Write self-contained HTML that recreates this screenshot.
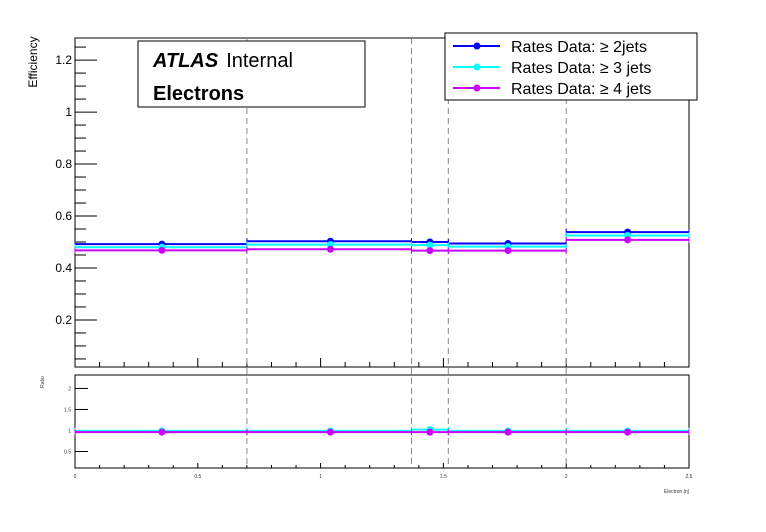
<!DOCTYPE html>
<html><head><meta charset="utf-8"><style>
body{margin:0;background:#fff;}
svg{display:block;font-family:"Liberation Sans",sans-serif;}
</style></head><body>
<svg id="c" width="766" height="532"></svg>
<script>
const edges=[0,0.7,1.37,1.52,2.0,2.5];
const centers=[0.354,1.04,1.445,1.763,2.25];
const eff2=[0.492,0.503,0.500,0.494,0.538];
const eff3=[0.480,0.490,0.488,0.482,0.525];
const eff4=[0.468,0.472,0.467,0.467,0.508];
const ratio3=[0.99,0.99,1.02,0.99,0.99];
const ratio4=[0.96,0.96,0.96,0.96,0.96];
const mainTicks=[0.2,0.4,0.6,0.8,1,1.2];
const ratioTicks=[0.5,1,1.5,2];
const xTicks=[0,0.5,1,1.5,2,2.5];
const NS="http://www.w3.org/2000/svg";
const svg=document.getElementById('c');
function el(t,a,p){const e=document.createElementNS(NS,t);for(const k in a)e.setAttribute(k,a[k]);(p||svg).appendChild(e);return e;}
const X0=75,X1=689;
const xs=v=>X0+(v-0)/(2.5)*(X1-X0);
const MT=38,MB=367,mmin=0.019,mmax=1.285;
const ym=v=>MB-(v-mmin)/(mmax-mmin)*(MB-MT);
const RT=375,RB=468,rmin=0.107,rmax=2.32;
const yr=v=>RB-(v-rmin)/(rmax-rmin)*(RB-RT);
let f=el('rect',{x:X0,y:MT,width:X1-X0,height:MB-MT,fill:'none',stroke:'#000','stroke-width':1});

f=el('rect',{x:X0,y:RT,width:X1-X0,height:RB-RT,fill:'none',stroke:'#000','stroke-width':1});

for(let v=0.05;v<1.285;v+=0.05){const major=Math.abs(v*5-Math.round(v*5))<1e-6;
 const t=el('line',{x1:X0,x2:X0+(major?22:11),y1:ym(v),y2:ym(v),stroke:'#000'});
 }
mainTicks.forEach(v=>{const t=el('text',{x:X0-3,y:ym(v)+4,'font-size':12,'text-anchor':'end'});t.textContent=String(v);
 });
for(let v=0;v<=2.5001;v+=0.1){const major=Math.abs(v*2-Math.round(v*2))<1e-6;
 el('line',{x1:xs(v),x2:xs(v),y1:MB,y2:MB-(major?9:5),stroke:'#000'});
 el('line',{x1:xs(v),x2:xs(v),y1:RB,y2:RB-(major?5:3),stroke:'#000'});}
xTicks.forEach(v=>{const t=el('text',{x:xs(v),y:RB+10,'font-size':5,'text-anchor':'middle',fill:'#333'});t.textContent=String(v);
 });
ratioTicks.forEach(v=>{el('line',{x1:X0,x2:X0+13,y1:yr(v),y2:yr(v),stroke:'#000'});
 const t=el('text',{x:X0-4,y:yr(v)+2,'font-size':5,'text-anchor':'end',fill:'#333'});t.textContent=String(v);
 });
edges.slice(1,-1).forEach(v=>{const l=el('line',{x1:xs(v),x2:xs(v),y1:MT,y2:RB,stroke:'#888','stroke-dasharray':'6,4'});
 });
function series(vals,col,yf,name){
 vals.forEach((v,i)=>{const l=el('line',{x1:xs(edges[i]),x2:xs(edges[i+1]),y1:yf(v),y2:yf(v),stroke:col,'stroke-width':2});
  
  el('line',{x1:xs(edges[i]),x2:xs(edges[i]),y1:yf(v)-3,y2:yf(v)+3,stroke:col,'stroke-width':1});
  el('line',{x1:xs(edges[i+1]),x2:xs(edges[i+1]),y1:yf(v)-3,y2:yf(v)+3,stroke:col,'stroke-width':1});
  const c=el('circle',{cx:xs(centers[i]),cy:yf(v),r:3.5,fill:col});
  });
}
series(eff2,'#0000ff',ym,'eff-2jets');
series(eff3,'#00ffff',ym,'eff-3jets');
series(eff4,'#cc00ff',ym,'eff-4jets');
series(ratio3,'#00ffff',yr,'ratio-3jets');
series(ratio4,'#cc00ff',yr,'ratio-4jets');
let t=el('text',{x:0,y:0,'font-size':12,transform:'translate(37,62) rotate(-90)','text-anchor':'middle'});t.textContent='Efficiency';

t=el('text',{x:0,y:0,'font-size':5,transform:'translate(44,382) rotate(-90)','text-anchor':'middle',fill:'#333'});t.textContent='Ratio';

t=el('text',{x:689,y:493,'font-size':5,'text-anchor':'end',fill:'#333'});t.textContent='Electron |η|';

let b=el('rect',{x:138,y:41,width:227,height:66,fill:'#fff',stroke:'#000'});

t=el('text',{x:153,y:67,'font-size':20});t.innerHTML='<tspan font-weight="bold" font-style="italic">ATLAS</tspan><tspan dx="8">Internal</tspan>';

t=el('text',{x:153,y:100,'font-size':20,'font-weight':'bold'});t.textContent='Electrons';

b=el('rect',{x:445,y:33,width:252,height:67,fill:'#fff',stroke:'#000'});

[['#0000ff','Rates Data: ≥ 2jets'],['#00ffff','Rates Data: ≥ 3 jets'],['#cc00ff','Rates Data: ≥ 4 jets']].forEach((e,i)=>{
 const y=46+i*21;
 el('line',{x1:453,x2:500,y1:y,y2:y,stroke:e[0],'stroke-width':2});
 el('circle',{cx:477,cy:y,r:3.5,fill:e[0]});
 const tx=el('text',{x:511,y:y+6,'font-size':16});tx.textContent=e[1];
 });
</script>
</body></html>
